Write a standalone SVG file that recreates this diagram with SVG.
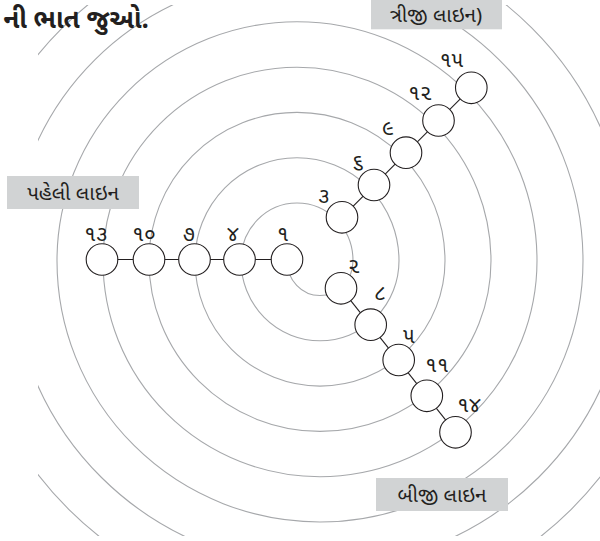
<svg xmlns="http://www.w3.org/2000/svg" width="600" height="541" viewBox="0 0 600 541">
<style>
.ring{fill:none;stroke:#a6a8ab;stroke-width:1.1}
.link{stroke:#231f20;stroke-width:1.1}
.node circle{fill:#fff;stroke:#231f20;stroke-width:1.1}
.num{font-family:"Noto Sans Gujarati","Lohit Gujarati","Noto Sans",sans-serif;font-size:21.5px;fill:#231f20;text-anchor:middle}
.box rect{fill:#d1d3d4}
.box text{font-family:"Noto Sans Gujarati","Lohit Gujarati","Noto Sans",sans-serif;font-size:20.5px;fill:#231f20;text-anchor:middle}
.title{font-family:"Noto Sans Gujarati","Lohit Gujarati","Noto Sans",sans-serif;font-size:26px;font-weight:bold;fill:#231f20;text-anchor:end}
</style>
<defs>
<clipPath id="clip"><rect x="38" y="5" width="570" height="531"/></clipPath>
</defs>
<rect width="600" height="541" fill="#fff"/>
<g id="spiral" clip-path="url(#clip)">
<path class="ring" d="M287,260.7 A33,34.8 0 0 0 353,260.7 A56,57.7 0 0 0 241,260.7 A79,80.1 0 0 0 399,260.7 A102,103 0 0 0 195,260.7 A125,125.4 0 0 0 445,260.7 A148,148.3 0 0 0 149,260.7 A171,170.7 0 0 0 491,260.7 A194,193.6 0 0 0 103,260.7 A217,216 0 0 0 537,260.7 A240,238.9 0 0 0 57,260.7 A263,261.3 0 0 0 583,260.7 A286,284.2 0 0 0 11,260.7 A309,306.6 0 0 0 629,260.7 A332,329.5 0 0 0 -35,260.7 A355,352 0 0 0 675,260.7"/>
</g>
<text class="title" x="149" y="28">ની ભાત જુઓ.</text>
<g id="connectors">
<line class="link" x1="102" y1="259.5" x2="287" y2="259.5"/>
<line class="link" x1="341" y1="288.3" x2="455.5" y2="432.3"/>
<line class="link" x1="342" y1="217.3" x2="471.3" y2="87.8"/>
</g>
<g id="n13" class="node"><circle cx="102" cy="259.5" r="15.8"/><text class="num" x="96" y="241">૧૩</text></g>
<g id="n10" class="node"><circle cx="149" cy="259.5" r="15.8"/><text class="num" x="144" y="241">૧૦</text></g>
<g id="n7" class="node"><circle cx="194.5" cy="259.5" r="15.8"/><text class="num" x="189" y="241">૭</text></g>
<g id="n4" class="node"><circle cx="239.5" cy="259.5" r="15.8"/><text class="num" x="233" y="241">૪</text></g>
<g id="n1" class="node"><circle cx="287" cy="259.5" r="15.8"/><text class="num" x="283" y="241">૧</text></g>
<g id="n3" class="node"><circle cx="342" cy="217.3" r="15.8"/><text class="num" x="324" y="203">૩</text></g>
<g id="n6" class="node"><circle cx="374" cy="185" r="15.8"/><text class="num" x="358" y="169">૬</text></g>
<g id="n9" class="node"><circle cx="406" cy="152.7" r="15.8"/><text class="num" x="388" y="135">૯</text></g>
<g id="n12" class="node"><circle cx="438.5" cy="120.5" r="15.8"/><text class="num" x="420" y="100">૧૨</text></g>
<g id="n15" class="node"><circle cx="471.3" cy="87.8" r="15.8"/><text class="num" x="451.5" y="67">૧૫</text></g>
<g id="n2" class="node"><circle cx="341" cy="288.3" r="15.8"/><text class="num" x="354" y="273">૨</text></g>
<g id="n8" class="node"><circle cx="370.7" cy="324.7" r="15.8"/><text class="num" x="380" y="300">૮</text></g>
<g id="n5" class="node"><circle cx="398.7" cy="360" r="15.8"/><text class="num" x="409" y="343">૫</text></g>
<g id="n11" class="node"><circle cx="426.8" cy="395.8" r="15.8"/><text class="num" x="437" y="372">૧૧</text></g>
<g id="n14" class="node"><circle cx="455.5" cy="432.3" r="15.8"/><text class="num" x="469" y="412">૧૪</text></g>
<g id="box3" class="box"><rect x="371" y="-1" width="131" height="30.3"/><text x="436" y="22">ત્રીજી લાઇન)</text></g>
<g id="box1" class="box"><rect x="7" y="176" width="132" height="33"/><text x="73" y="200">પહેલી લાઇન</text></g>
<g id="box2" class="box"><rect x="376" y="478" width="132" height="33"/><text x="442" y="502">બીજી લાઇન</text></g>
</svg>
